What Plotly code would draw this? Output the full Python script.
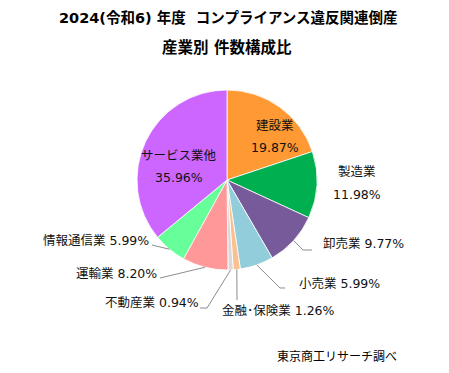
import math
import plotly.graph_objects as go

# ---- data ----
categories = ["建設業", "製造業", "卸売業", "小売業", "金融･保険業", "不動産業", "運輸業", "情報通信業", "サービス業他"]
shares = [19.87, 11.98, 9.77, 5.99, 1.26, 0.94, 8.20, 5.99, 35.96]
share_labels = ["19.87%", "11.98%", "9.77%", "5.99%", "1.26%", "0.94%", "8.20%", "5.99%", "35.96%"]
colors = ["#FF9933", "#00B050", "#775A99", "#92CDDC", "#FAC090", "#D9D9D9", "#FF9999", "#66FF99", "#CC66FF"]

# page body has an 8px margin, so the figure starts at (8, 8)
OFF = 8
W, H = 449 - OFF, 373 - OFF
FONT = "DejaVu Sans, Noto Sans CJK JP"
TFONT = "DejaVu Sans, Noto Sans CJK JP"

# pie geometry (page pixels)
CX, CY, R = 227, 180, 90

def px(x):
    return (x - OFF) / W

def py(y):
    return 1 - (y - OFF) / H

fig = go.Figure(go.Pie(
    labels=categories, values=shares, sort=False, direction="clockwise", rotation=0,
    marker=dict(colors=colors, line=dict(color="white", width=0.8)),
    textinfo="none", hoverinfo="label+value", showlegend=False,
    domain=dict(x=[px(CX - R), px(CX + R)], y=[py(CY + R), py(CY - R)]),
))

# mid angle of each slice, from the data
total = sum(shares)
mids = {}
cum = 0
for c, v in zip(categories, shares):
    mids[c] = (cum + v / 2) / total * 2 * math.pi
    cum += v

def edge(c, rr=R):
    a = mids[c]
    return CX + rr * math.sin(a), CY - rr * math.cos(a)

layout_spec = {
    "建設業": dict(x=275, y=136, xanchor="center", two=True, path=None),
    "サービス業他": dict(x=179, y=166, xanchor="center", two=True, path=None),
    "製造業": dict(x=357, y=183, xanchor="center", two=True, path=None),
    "卸売業": dict(x=321, y=243, xanchor="left", two=False, path=[(303, 250), (312, 250)]),
    "小売業": dict(x=297, y=283, xanchor="left", two=False, path=[(280, 288), (285, 288)]),
    "金融･保険業": dict(x=220, y=310, xanchor="left", two=False, path=[(237, 300)]),
    "不動産業": dict(x=201, y=302, xanchor="right", two=False, path=[(207, 308), (200, 308)]),
    "運輸業": dict(x=159, y=273, xanchor="right", two=False, path=[(160, 278)]),
    "情報通信業": dict(x=151, y=240, xanchor="right", two=False, path=[(152, 245)]),
}

annotations = []
shapes = []
for c, lab in zip(categories, share_labels):
    s = layout_spec[c]
    if s["two"]:
        annotations.append(dict(x=px(s["x"]), y=py(s["y"] - 11), xref="paper", yref="paper",
                                text=c, showarrow=False, xanchor="center", yanchor="middle",
                                font=dict(family=FONT, size=12.5, color="#111")))
        annotations.append(dict(x=px(s["x"]), y=py(s["y"] + 11), xref="paper", yref="paper",
                                text=lab, showarrow=False, xanchor="center", yanchor="middle",
                                font=dict(family=FONT, size=12.5, color="#111")))
    else:
        annotations.append(dict(x=px(s["x"]), y=py(s["y"]), xref="paper", yref="paper",
                                text=c + " " + lab, showarrow=False, xanchor=s["xanchor"], yanchor="middle",
                                font=dict(family=FONT, size=12.5, color="#111")))
    if s["path"]:
        ex, ey = edge(c)
        pts = [(ex, ey)] + s["path"]
        d = "M " + " L ".join(f"{px(x):.5f},{py(y):.5f}" for x, y in pts)
        shapes.append(dict(type="path", path=d, xref="paper", yref="paper",
                           line=dict(color="#8C8C8C", width=1)))

# titles and source
annotations.append(dict(x=px(229), y=py(17), xref="paper", yref="paper", showarrow=False,
                        text="<b>2024(令和6) 年度\u00a0 コンプライアンス違反関連倒産</b>",
                        xanchor="center", yanchor="middle", font=dict(family=TFONT, size=14.5, color="#000")))
annotations.append(dict(x=px(227), y=py(47), xref="paper", yref="paper", showarrow=False,
                        text="<b>産業別 件数構成比</b>",
                        xanchor="center", yanchor="middle", font=dict(family=TFONT, size=15.5, color="#000")))
annotations.append(dict(x=px(337), y=py(357), xref="paper", yref="paper", showarrow=False,
                        text="東京商工リサーチ調べ", xanchor="center", yanchor="middle",
                        font=dict(family=FONT, size=12, color="#000")))

fig.update_layout(width=W, height=H, margin=dict(l=0, r=0, t=0, b=0),
                  paper_bgcolor="white", plot_bgcolor="white",
                  annotations=annotations, shapes=shapes)
fig.write_html("out.html")
